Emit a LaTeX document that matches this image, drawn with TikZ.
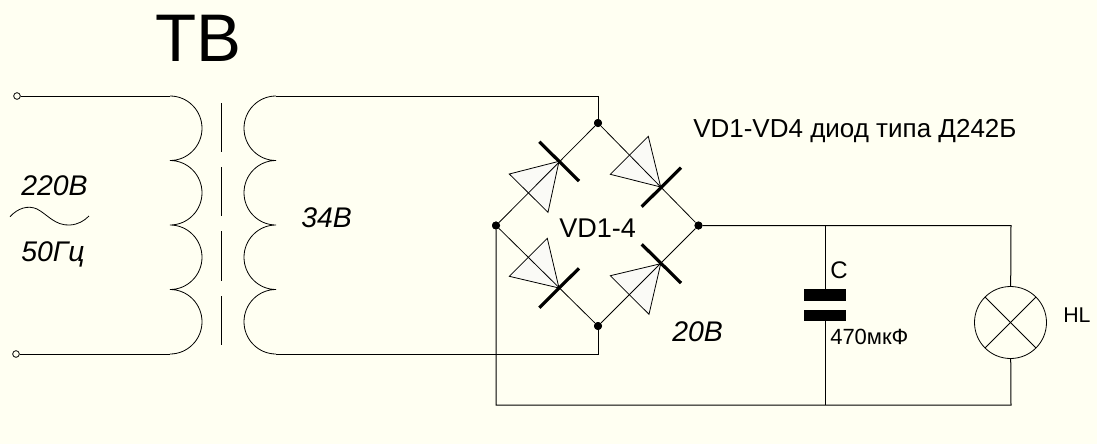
\documentclass[tikz,border=0pt]{standalone}
\usepackage{fontspec}
\setmainfont{Liberation Sans}
\definecolor{bgc}{HTML}{FFFFF2}
\definecolor{dfill}{HTML}{FAFAF6}
\newcommand{\pxfont}[1]{\fontsize{#1}{#1}\selectfont}
\tikzset{
  wire/.style={draw=black,line width=0.75pt},
  thin wire/.style={draw=black,line width=0.6pt},
  dot/.style={circle,fill=black,inner sep=0pt,minimum size=6pt},
  term/.style={circle,draw=black,fill=bgc,line width=0.6pt,inner sep=0pt,minimum size=5pt},
  bar/.style={draw=black,line width=2.4pt},
  tri/.style={draw=black,line width=0.6pt,fill=dfill,line join=miter},
  lbl/.style={anchor=base west,inner sep=0pt,text=black},
  loop/.style={start angle=-90,delta angle=180,x radius=32,y radius=32.25},
  rloop/.style={start angle=-90,delta angle=-180,x radius=32,y radius=32.25},
}
\begin{document}
\begin{tikzpicture}[x=0.75pt,y=-0.75pt]
\useasboundingbox (0,0) rectangle (1097,444);
\fill[bgc] (0,0) rectangle (1097,444);

% junctions
\node[term] (t1) at (17,96) {};
\node[term] (t2) at (16,354) {};
\node[dot] (top) at (598,123) {};
\node[dot] (left) at (496,225.5) {};
\node[dot] (right) at (698.5,225.5) {};
\node[dot] (bot) at (598,326) {};
\node[draw=black,fill=bgc,circle,line width=0.6pt,inner sep=0pt,minimum size=54pt] (lamp) at (1010.5,322.5) {};
\coordinate (p0) at (170,96);
\coordinate (p4) at (170,354);
\coordinate (s0) at (276,96);
\coordinate (s4) at (276,354);
\coordinate (ctop) at (825,225.5);
\coordinate (cbot) at (825,405);
\coordinate (lt) at (1011,225.5);
\coordinate (lb) at (1011,405);
\coordinate (bl) at (496,405);
\coordinate (p1) at (825,295);
\coordinate (p2) at (825,315);

% windings
\draw[thin wire] (p0) arc[loop] arc[loop] arc[loop] arc[loop];
\draw[thin wire] (s0) arc[rloop] arc[rloop] arc[rloop] arc[rloop];
% core
\foreach \a/\b in {103/152,167/216,231/281,296/345}
  \draw[thin wire] (221.5,\a) -- (221.5,\b);

% wires
\draw[wire] (t1) -- (p0);
\draw[wire] (t2) -- (p4);
\draw[wire] (s0) -| (top);
\draw[wire] (s4) -| (bot);
\draw[wire] (right) -- (lt) -- (lamp);
\draw[wire] (lamp) -- (lb) -- (bl) -- (left);
\draw[wire] (ctop) -- (p1);
\draw[wire] (p2) -- (cbot);

% diodes
\draw[tri] (559,161.3) -- (509.3,174) -- (548,212.3) -- cycle;
\draw[tri] (660.7,187) -- (610.3,174.3) -- (648.3,136.3) -- cycle;
\draw[tri] (559,288) -- (509.3,276.3) -- (547.3,238.3) -- cycle;
\draw[tri] (660.7,263.7) -- (610.3,275.7) -- (649,314.3) -- cycle;
\draw[thin wire] (top) -- (left) -- (bot) -- (right) -- (top);
\draw[bar] (539.3,141.7) -- (579,181);
\draw[bar] (641.7,206.7) -- (681,167.7);
\draw[bar] (539.3,307.7) -- (579,268.3);
\draw[bar] (641.7,244.3) -- (681,283);
\node[dot] at (top) {};
\node[dot] at (left) {};
\node[dot] at (right) {};
\node[dot] at (bot) {};

% capacitor
\fill[black] (804,289.3) rectangle (846,300.7);
\fill[black] (804,310) rectangle (846,320.7);

% lamp cross
\draw[thin wire] (lamp.45) -- (lamp.225);
\draw[thin wire] (lamp.135) -- (lamp.315);

% sine
\draw[thin wire] (10,216.7) .. controls (18,208) and (28,205) .. (37,209)
  .. controls (47,214) and (55,226) .. (70,225)
  .. controls (78,224.5) and (84,221) .. (89,216);

% labels
\node[lbl,font=\pxfont{50.5}] (tv) at (155,61.5) {ТВ};
\node[lbl,font=\pxfont{21.3}\itshape] (v220) at (21,195) {220В};
\node[lbl,font=\pxfont{21.3}\itshape] (hz) at (21,261.5) {50Гц};
\node[lbl,font=\pxfont{21.3}\itshape] (v34) at (301,227) {34В};
\node[lbl,font=\pxfont{21.3}\itshape] (v20) at (672,341) {20В};
\node[lbl,font=\pxfont{20.3}] (vd) at (559,237) {VD1-4};
\node[lbl,font=\pxfont{19.5}] (vdt) at (693,137) {VD1-VD4 диод типа Д242Б};
\node[lbl,font=\pxfont{18}] (c) at (830,278) {C};
\node[lbl,font=\pxfont{16.5}] (cv) at (830,344) {470мкФ};
\node[lbl,font=\pxfont{16}] (hl) at (1063,322) {HL};
\end{tikzpicture}
\end{document}
